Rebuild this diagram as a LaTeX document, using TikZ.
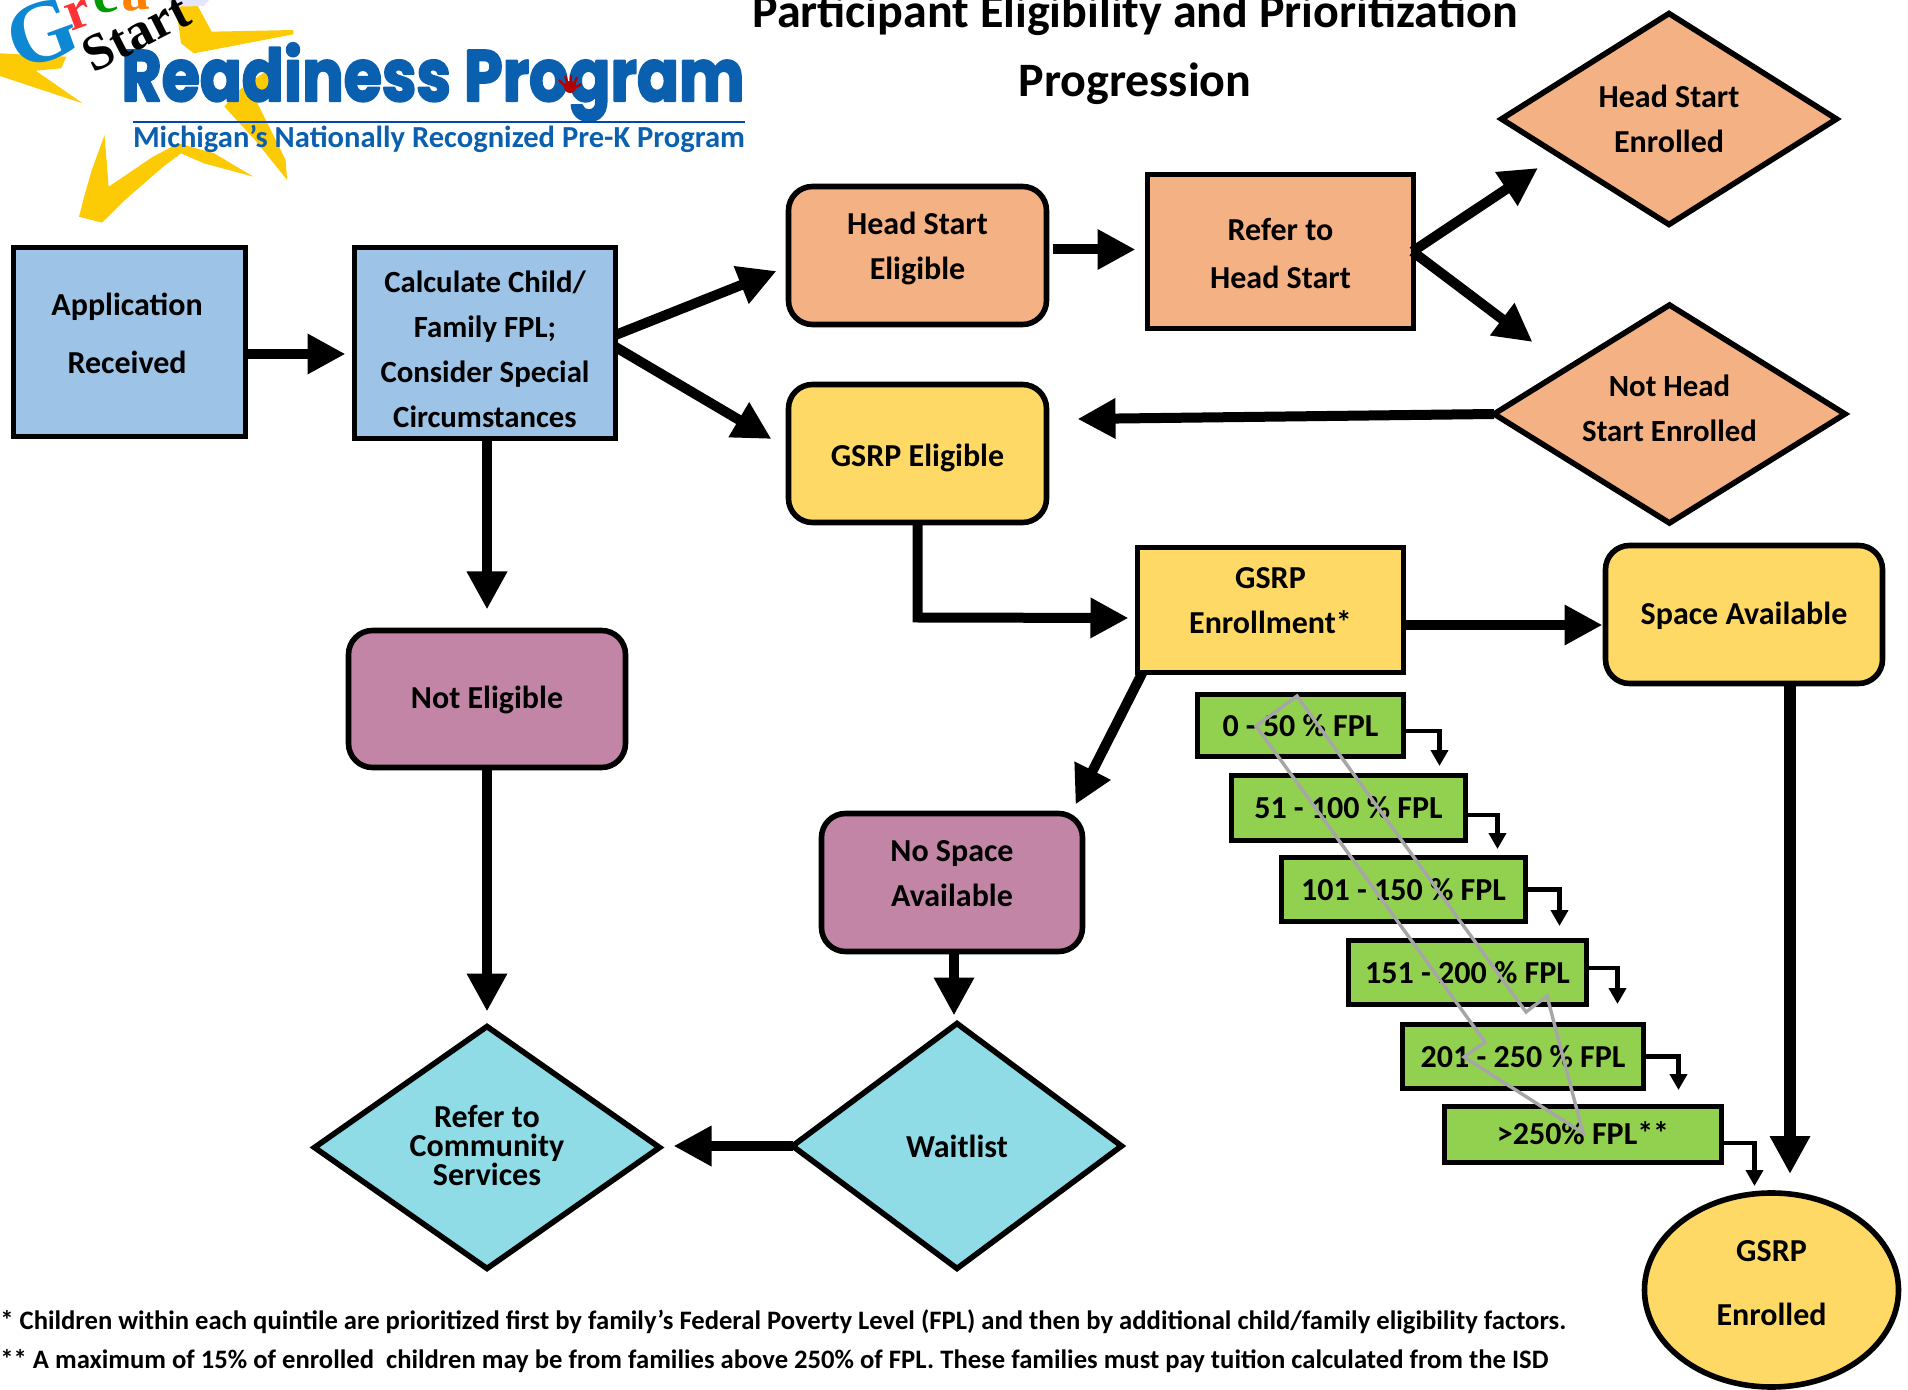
\documentclass[tikz,border=0pt]{standalone}
\usepackage{fontspec}
\setmainfont{Carlito}
\newfontfamily\logofont{Poppins}
\newfontfamily\greatfont{Liberation Serif}
\usetikzlibrary{arrows.meta,shapes.geometric,calc}
\definecolor{cblue}{HTML}{9DC3E6}
\definecolor{corange}{HTML}{F4B183}
\definecolor{cyellow}{HTML}{FFD966}
\definecolor{cpurple}{HTML}{C285A5}
\definecolor{ccyan}{HTML}{8FDCE6}
\definecolor{cgreen}{HTML}{92D050}
\definecolor{cstar}{HTML}{FCCB06}
\definecolor{clogo}{HTML}{0A60AE}
\newcommand{\shifted}[2]{\raisebox{#1}[\height][\depth]{\begin{tabular}{@{}c@{}}#2\end{tabular}}}
\tikzset{
  base/.style={draw=black,line width=2.8pt,outer sep=0pt,inner sep=0pt,align=center,
    font=\fontsize{16}{19}\selectfont\bfseries},
  narrowtext/.style={font=\fontsize{15.4}{19}\selectfont\bfseries},
  sz/.style 2 args={minimum width={(#1-3)*0.5pt},minimum height={(#2-3)*0.5pt}},
  bx/.style={base,rectangle},
  rbx/.style={base,rectangle,rounded corners=12pt},
  dia/.style={base,diamond,aspect=1.6},
  grn/.style={base,rectangle,fill=cgreen,line width=2.6pt},
  big/.style={line width=5pt,draw=black,-{Triangle[length=19pt,width=19pt]}},
  small/.style={line width=2.3pt,draw=black,-{Triangle[length=8pt,width=8.5pt]}},
  foot/.style={inner sep=0pt,anchor=west,font=\fontsize{13.32}{16}\selectfont\bfseries},
  logoletter/.style={inner sep=0pt,font=\fontsize{28}{28}\selectfont\greatfont\bfseries},
}
\begin{document}
\begin{tikzpicture}[x=0.5pt,y=-0.5pt]
\path[use as bounding box] (0,0) rectangle (1908,1390);
\clip (0,0) rectangle (1908,1390);
% logo
\begin{scope}[x=0.255pt,y=-0.1667pt]
\fill[cstar] (0,160)--(130,170)--(120,205)--(70,212)--(162,310)--(0,228)--cycle;
\fill[cstar] (345,20)--(385,10)--(415,95)--(575,90)--(575,103)--(380,160)--(355,130)--cycle;
\fill[cstar] (525,210)--(550,210)--(505,310)--(560,480)--(563,540)--(500,420)--(440,320)--(460,280)--cycle;
\fill[cstar] (205,405)--(213,560)--(300,470)--(350,430)--(420,460)--(497,530)--(400,490)--(355,460)--(320,500)--(245,600)--(200,668)--(155,650)--(165,590)--(180,510)--cycle;
\fill[blue!10] (330,0)--(410,0)--(400,18)--(340,20)--cycle;
\end{scope}
\node[logoletter,rotate=20,text=cyan!70!blue,font=\fontsize{44}{44}\selectfont\greatfont\bfseries] (logoG) at (42,33) {G};
\node[logoletter,rotate=20,text=red!80] (logoR) at (79,15) {r};
\node[logoletter,rotate=10,text=green!60!black] (logoE) at (105,0) {e};
\node[logoletter,rotate=5,text=orange] (logoA) at (135,-3) {a};
\node[inner sep=0pt,text=clogo] (logoRP) at (433,82) {\resizebox{311.5pt}{29pt}{\special{pdf:code 2 Tr 1 j 1 J 0.3 w 0.04 0.376 0.682 RG}\logofont\bfseries Readiness Program\special{pdf:code 0 Tr}}};
\node[inner sep=0pt,rotate=27,text=black,font=\fontsize{26}{26}\selectfont\greatfont\bfseries] (logoS) at (136,33) {Start};
\fill[red!70!black] (570,87) circle[radius=6];
\draw[red!70!black,line width=1.2pt] (565,86)--(559,80) (568,84)--(565,76) (571,84)--(571,75) (574,85)--(577,77) (575,88)--(581,84);
\draw[blue!60!cyan!70!black,line width=0.7pt] (133,122) -- (745,122);
\node[inner sep=0pt,text=clogo] (logoM) at (439,139) {\resizebox{306pt}{!}{\bfseries Michigan’s Nationally Recognized Pre-K Program}};
% title
\node[inner sep=0pt,font=\fontsize{24}{28}\selectfont\bfseries] (title1) at (1135,15) {Participant Eligibility and Prioritization};
\node[inner sep=0pt,font=\fontsize{24}{28}\selectfont\bfseries] (title2) at (1135,83.5) {Progression};
% boxes
\node[bx,fill=cblue,sz={235}{192}] (app) at (129.5,342) {\kern-2.4pt\shifted{2.5pt}{Application\\[9.7pt]Received}};
\node[bx,fill=cblue,sz={264}{194},narrowtext] (calc) at (485,343) {\shifted{-4.8pt}{Calculate Child/\\[3.5pt]Family FPL;\\[3.5pt]Consider Special\\[3.5pt]Circumstances}};
\node[rbx,fill=corange,sz={261}{141}] (hse) at (917.5,255.5) {\shifted{3pt}{Head Start\\[3.5pt]Eligible}};
\node[bx,fill=corange,sz={269}{157}] (ref) at (1280.5,251.5) {\shifted{-2.5pt}{Refer to\\[5pt]Head Start}};
\node[dia,fill=corange,sz={338}{214}] (hsen) at (1669,119) {Head Start\\[3.5pt]Enrolled};
\node[dia,fill=corange,sz={354}{221},narrowtext] (nhs) at (1669.5,414) {\shifted{1.5pt}{Not Head\\[3.5pt]Start Enrolled}};
\node[rbx,fill=cyellow,sz={261}{141}] (gse) at (917.5,453.5) {\shifted{-2.8pt}{GSRP Eligible}};
\node[bx,fill=cyellow,sz={269}{128}] (gen) at (1270.5,610) {\shifted{3.3pt}{GSRP\\[3.5pt]Enrollment*}};
\node[rbx,fill=cyellow,sz={280}{141}] (spa) at (1744,614.5) {\shifted{-1.2pt}{Space Available}};
\node[rbx,fill=cpurple,sz={280}{140}] (nel) at (487,699) {\shifted{-1.2pt}{Not Eligible}};
\node[rbx,fill=cpurple,sz={264}{141}] (nsp) at (952,882.5) {\shifted{3.2pt}{No Space\\[3.5pt]Available}};
\node[dia,fill=ccyan,sz={332}{248}] (wait) at (957,1146) {Waitlist};
\node[dia,fill=ccyan,sz={348}{245}] (comm) at (487,1147.5) {\shifted{-0.5pt}{Refer to\\[-4.5pt]Community\\[-4.5pt]Services}};
\node[base,ellipse,fill=cyellow,sz={257}{197}] (gsen) at (1771.5,1290) {\shifted{2.3pt}{GSRP\\[13pt]Enrolled}};
% green
\node[grn,sz={209}{65}] (g1) at (1300.5,725.5) {0 - 50 \% FPL};
\node[grn,sz={237}{68}] (g2) at (1348.5,808) {51 - 100 \% FPL};
\node[grn,sz={247}{67}] (g3) at (1403.5,889.5) {101 - 150 \% FPL};
\node[grn,sz={241}{67}] (g4) at (1467.5,972.5) {151 - 200 \% FPL};
\node[grn,sz={244}{67}] (g5) at (1523,1056.5) {201 - 250 \% FPL};
\node[grn,sz={280}{59}] (g6) at (1583,1134.5) {\shifted{-1.2pt}{>250\% FPL**}};
% gray zigzag
\draw[black!35,line width=1.7pt] (1297,696)--(1256,726)--(1485,1042)--(1464,1057)--(1583,1133)--(1547,996)--(1526,1012)--cycle;
% connectors
\draw[big] ($(app.east)+(0,12)$) -- ($(calc.west)+(-9,11)$);
\draw[big] ($(calc.east)+(0,-8)$) -- ($(hse.west)+(-12,15.5)$);
\draw[big] ($(calc.east)+(0,4)$) -- ($(gse.west)+(-17,-14.5)$);
\draw[big] ($(calc.south)+(2,0)$) -- ($(nel.north)+(0,-21)$);
\draw[big] ($(hse.east)+(6,-6)$) -- ($(ref.west)+(-12,-2)$);
\draw[big] ($(ref.east)+(-1,0)$) -- ($(hsen.west)+(36.5,49)$);
\draw[big] ($(ref.east)+(-1,0)$) -- ($(nhs.west)+(38.5,-72)$);
\draw[big] (nhs.west) -- ($(gse.east)+(31,-34.5)$);
\draw[big] (gse.south) -- ++(0,95) -- ($(gen.west)+(-9,8)$);
\draw[big] ($(gen.east)+(0,15)$) -- ($(spa.west)+(-3,10.5)$);
\draw[big] ($(gen.south west)+(5,0)$) -- ($(nsp.north east)+(-7,-9)$);
\draw[big] ($(nsp.south)+(2,0)$) -- ($(wait.north)+(-3,-8)$);
\draw[big] (nel.south) -- ($(comm.north)+(0,-15)$);
\draw[big] (wait.west) -- ($(comm.east)+(14,-1.5)$);
\draw[big,line width=6pt] ($(spa.south)+(46,0)$) -- ($(gsen.north)+(18.5,-19)$);
\draw[small] ($(g1.east)+(0,5.5)$) -| ($(g1.east)+(36,40.5)$);
\draw[small] ($(g2.east)+(0,7)$) -| ($(g2.east)+(32,41)$);
\draw[small] ($(g3.east)+(0,0)$) -| ($(g3.east)+(34,36.5)$);
\draw[small] ($(g4.east)+(0,-4.5)$) -| ($(g4.east)+(31,31.5)$);
\draw[small] ($(g5.east)+(0,0)$) -| ($(g5.east)+(35,33.5)$);
\draw[small] ($(g6.east)+(0,8.5)$) -| ($(g6.east)+(33,51.5)$);
% footnotes
\node[foot] (f1) at (0,1322) {* Children within each quintile are prioritized first by family’s Federal Poverty Level (FPL) and then by additional child/family eligibility factors.};
\node[foot] (f2) at (0,1361) {** A maximum of 15\% of enrolled\ \ children may be from families above 250\% of FPL. These families must pay tuition calculated\ from the ISD};
\end{tikzpicture}
\end{document}
